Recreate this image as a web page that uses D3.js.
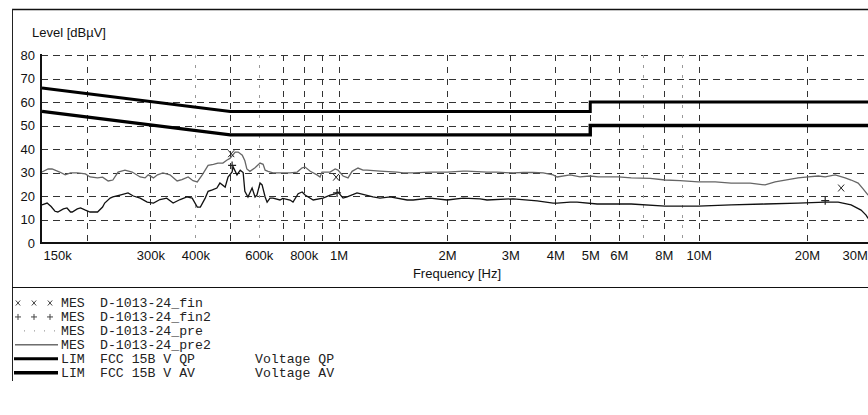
<!DOCTYPE html>
<html><head><meta charset="utf-8">
<script src="https://cdn.jsdelivr.net/npm/d3@7"></script>
<style>body{margin:0;background:#fff}svg{display:block;background:#fff}</style>
</head><body><svg id="c" width="868" height="415"></svg>
<script>
// ---------- DATA (frequency in MHz, level in dBµV) ----------
const preFreq = [0.150,0.156,0.160,0.168,0.174,0.180,0.188,0.198,0.204,0.214,0.221,0.229,0.236,0.244,0.255,0.267,0.281,0.290,0.296,0.306,0.314,0.325,0.340,0.356,0.367,0.382,0.394,0.405,0.418,0.434,0.449,0.462,0.477,0.490,0.499,0.516,0.526,0.540,0.549,0.556,0.567,0.586,0.605,0.617,0.625,0.637,0.657,0.687,0.733,0.767,0.792,0.807,0.834,0.871,0.888,0.899,0.947,0.978,0.996,1.029,1.062,1.090,1.132,1.169,1.199,1.303,1.453,1.511,1.611,1.795,2.002,2.218,2.275,2.584,2.755,3.055,3.256,3.471,3.700,3.943,4.045,4.397,4.686,4.995,5.259,5.978,6.497,7.333,8.071,8.881,9.98,11.12,12.31,13.90,15.30,16.31,17.39,18.89,20.15,21.49,22.47,23.94,25.52,26.52,27.74,28.63,29.56];
const preLevel = [30.2,31.5,31.5,30.2,29.0,29.8,29.8,29.4,28.1,27.7,28.0,26.4,26.8,30.2,31.0,30.2,28.1,27.7,29.0,27.7,29.0,29.8,29.0,26.4,27.0,28.1,26.5,26.0,29.0,33.0,33.5,34.0,34.0,35.3,36.0,38.7,38.7,37.4,35.0,31.5,30.5,32.0,34.0,33.5,31.0,30.5,29.8,29.8,29.8,30.2,32.0,32.3,30.5,29.0,28.1,30.2,30.2,31.5,31.0,28.5,27.7,30.5,31.9,31.0,31.0,30.6,30.2,29.8,29.8,30.2,30.2,30.6,30.6,30.2,30.2,29.8,30.0,30.0,29.8,29.0,28.1,29.0,28.1,28.5,28.1,28.1,27.7,27.5,26.8,26.5,26.0,26.0,25.5,25.5,24.7,26.0,26.8,27.7,28.1,28.5,28.1,29.0,27.7,26.8,25.5,23.0,20.4];

const pre2Freq = [0.150,0.155,0.159,0.163,0.166,0.172,0.176,0.180,0.182,0.188,0.192,0.198,0.204,0.214,0.221,0.224,0.232,0.236,0.247,0.260,0.269,0.281,0.294,0.306,0.319,0.333,0.347,0.363,0.379,0.392,0.405,0.413,0.426,0.434,0.446,0.459,0.468,0.484,0.493,0.506,0.509,0.522,0.533,0.543,0.549,0.560,0.575,0.586,0.593,0.605,0.613,0.625,0.633,0.645,0.657,0.687,0.700,0.733,0.747,0.772,0.792,0.807,0.850,0.905,0.947,0.978,0.996,1.029,1.056,1.125,1.246,1.303,1.390,1.550,1.611,1.795,2.002,2.218,2.471,2.584,3.055,3.560,3.943,4.045,4.397,4.597,5.223,6.497,8.071,9.98,12.31,15.30,18.89,22.47,24.41,26.52,28.26,29.18,29.56];
const pre2Level = [16.2,17.0,15.5,13.5,13.2,14.5,14.9,13.2,13.2,14.5,14.9,14.0,13.2,13.2,15.3,17.0,19.1,19.6,20.4,21.3,20.0,19.1,17.4,17.0,18.5,19.1,17.0,18.5,19.6,19.1,15.3,15.3,19.1,22.0,22.6,23.4,25.5,23.8,28.1,30.2,32.5,29.0,31.0,30.0,22.0,19.6,23.4,19.6,20.4,25.5,24.7,19.6,17.4,19.1,19.1,18.3,19.0,18.3,17.4,21.0,21.7,20.4,18.3,19.1,20.4,20.9,21.7,19.1,19.6,21.3,19.6,19.1,19.6,18.3,18.3,19.1,18.3,19.1,18.8,18.3,18.8,17.9,17.0,17.0,17.4,17.4,16.6,16.6,15.7,15.7,16.2,16.6,17.0,17.4,17.4,16.2,14.0,11.9,10.5];

const qpLimFreq  = [0.15, 0.5, 5, 5, 30];
const qpLimLevel = [66, 56, 56, 60, 60];
const avLimFreq  = [0.15, 0.5, 5, 5, 30];
const avLimLevel = [56, 46, 46, 50, 50];

const finFreq   = [0.503, 0.984, 24.88];   // x  final (QP)
const finLevel  = [38.0, 28.0, 23.4];
const fin2Freq  = [0.506, 0.990, 22.47];   // +  final (AV)
const fin2Level = [33.0, 21.3, 18.0];

const yTicks = [0,10,20,30,40,50,60,70,80];
const xTickValues = [0.15,0.3,0.4,0.6,0.8,1,2,3,4,5,6,8,10,20,30];
const xTickLabels = ["150k","300k","400k","600k","800k","1M","2M","3M","4M","5M","6M","8M","10M","20M","30M"];
const gridMajor = [0.2,0.3,0.5,0.7,0.8,0.9,1,2,3,4,5,6,8,10,20];
const gridMinor = [0.4,0.6,7,9];

const legendSymbols = ["x","+","dot","thin","thick","thick2"];
const legendTypes   = ["MES","MES","MES","MES","LIM","LIM"];
const legendNames   = ["D-1013-24_fin","D-1013-24_fin2","D-1013-24_pre","D-1013-24_pre2","FCC 15B V QP","FCC 15B V AV"];
const legendNotes   = ["","","","","Voltage QP","Voltage AV"];

// ---------- CHART ----------
const svg = d3.select("#c");
const x = d3.scaleLog().domain([0.15, 30]).range([42, 870.4]);
const y = d3.scaleLinear().domain([0, 80]).range([243, 55]);
const sans = "Liberation Sans, Arial, Helvetica, sans-serif";
const mono = "Liberation Mono, Courier New, monospace";

// frame
svg.append("line").attr("x1",12).attr("x2",868).attr("y1",9.5).attr("y2",9.5).attr("stroke","#111").attr("stroke-width",1.3);
svg.append("line").attr("x1",12.5).attr("x2",12.5).attr("y1",9).attr("y2",381).attr("stroke","#222").attr("stroke-width",1);
svg.append("line").attr("x1",12).attr("x2",868).attr("y1",287.5).attr("y2",287.5).attr("stroke","#111").attr("stroke-width",1.2);

// grid
const g = svg.append("g");
g.selectAll(".hg").data(yTicks.filter(d=>d>0)).join("line")
  .attr("x1",41).attr("x2",868).attr("y1",d=>Math.round(y(d))+0.5).attr("y2",d=>Math.round(y(d))+0.5)
  .attr("stroke","#333").attr("stroke-width",1).attr("stroke-dasharray","7,5");
g.selectAll(".vg").data(gridMajor).join("line")
  .attr("x1",d=>Math.round(x(d))+0.5).attr("x2",d=>Math.round(x(d))+0.5).attr("y1",55).attr("y2",243)
  .attr("stroke","#333").attr("stroke-width",1).attr("stroke-dasharray","6,6");
g.selectAll(".vm").data(gridMinor).join("line")
  .attr("x1",d=>Math.round(x(d))+0.5).attr("x2",d=>Math.round(x(d))+0.5).attr("y1",55).attr("y2",243)
  .attr("stroke","#999").attr("stroke-width",1).attr("stroke-dasharray","3,7");

// axes
const yAxis = svg.append("g").attr("transform","translate(41,0)")
  .call(d3.axisLeft(y).tickValues(yTicks).tickSize(0).tickPadding(6).tickFormat(d3.format("d")));
yAxis.select(".domain").remove();
yAxis.selectAll("text").attr("font-family",sans).attr("font-size",13).attr("fill","#111");

const xAxis = svg.append("g").attr("transform","translate(0,243)")
  .call(d3.axisBottom(x).tickValues(xTickValues).tickSize(0).tickPadding(7.5).tickFormat((d,i)=>xTickLabels[i]));
xAxis.select(".domain").remove();
xAxis.selectAll("text").attr("font-family",sans).attr("font-size",13).attr("fill","#111");
xAxis.selectAll("text").filter((d,i)=>i===0).attr("text-anchor","start").attr("dx",1);
xAxis.selectAll("text").filter((d,i)=>i===xTickValues.length-1).attr("text-anchor","end").attr("dx",-3);

svg.append("line").attr("x1",41).attr("x2",41).attr("y1",54).attr("y2",244).attr("stroke","#111").attr("stroke-width",2);
svg.append("line").attr("x1",40).attr("x2",868).attr("y1",243).attr("y2",243).attr("stroke","#111").attr("stroke-width",2);

svg.append("text").attr("x",32).attr("y",36.5).attr("font-family",sans).attr("font-size",13).attr("fill","#111").text("Level [dBµV]");
svg.append("text").attr("x",457).attr("y",278).attr("text-anchor","middle").attr("font-family",sans).attr("font-size",13).attr("fill","#111").text("Frequency [Hz]");

// series
const line = d3.line().x(d=>x(d[0])).y(d=>y(d[1]));
const zip = (a,b)=>a.map((v,i)=>[v,b[i]]);
const plot = svg.append("g");
plot.append("path").datum(zip(preFreq,preLevel)).attr("d",line).attr("fill","none").attr("stroke","#666").attr("stroke-width",1.3);
plot.append("path").datum(zip(pre2Freq,pre2Level)).attr("d",line).attr("fill","none").attr("stroke","#111").attr("stroke-width",1.3);
plot.append("path").datum(zip(qpLimFreq,qpLimLevel)).attr("d",line).attr("fill","none").attr("stroke","#000").attr("stroke-width",3);
plot.append("path").datum(zip(avLimFreq,avLimLevel)).attr("d",line).attr("fill","none").attr("stroke","#000").attr("stroke-width",3.4);

const xMark = s=>`M${-s},${-s*1.15}L${s},${s*1.15}M${s},${-s*1.15}L${-s},${s*1.15}`;
const pMark = s=>`M${-s},0H${s}M0,${-s}V${s}`;
plot.selectAll(".fx").data(zip(finFreq,finLevel)).join("path")
  .attr("transform",d=>`translate(${x(d[0])},${y(d[1])})`).attr("d",xMark(3)).attr("stroke","#222").attr("stroke-width",1).attr("fill","none");
plot.selectAll(".fp").data(zip(fin2Freq,fin2Level)).join("path")
  .attr("transform",d=>`translate(${x(d[0])},${y(d[1])})`).attr("d",pMark(4)).attr("stroke","#222").attr("stroke-width",1.2).attr("fill","none");

// legend
const lg = svg.append("g");
legendSymbols.forEach((s,i)=>{
  const cy = 303 + i*13.95;
  const row = lg.append("g");
  if (s==="x" || s==="+") {
    [18,34,50].forEach(cx=>row.append("path").attr("transform",`translate(${cx},${cy})`)
      .attr("d", s==="x" ? xMark(2.2) : pMark(3)).attr("stroke","#444").attr("stroke-width",1).attr("fill","none"));
  } else if (s==="dot") {
    row.append("line").attr("x1",24).attr("x2",58).attr("y1",cy).attr("y2",cy).attr("stroke","#888").attr("stroke-width",1).attr("stroke-dasharray","1,9");
  } else if (s==="thin") {
    row.append("line").attr("x1",15).attr("x2",58).attr("y1",cy).attr("y2",cy).attr("stroke","#222").attr("stroke-width",1);
  } else {
    row.append("line").attr("x1",14).attr("x2",58).attr("y1",cy).attr("y2",cy).attr("stroke","#000").attr("stroke-width",s==="thick"?3:3.5);
  }
  row.append("text").attr("x",61).attr("y",cy+4).attr("font-family",mono).attr("font-size",13.2).attr("fill","#222").text(legendTypes[i]);
  row.append("text").attr("x",100).attr("y",cy+4).attr("font-family",mono).attr("font-size",13.2).attr("fill","#222").text(legendNames[i]);
  if (legendNotes[i]) row.append("text").attr("x",255).attr("y",cy+4).attr("font-family",mono).attr("font-size",13.2).attr("fill","#222").text(legendNotes[i]);
});
</script>
</body></html>
